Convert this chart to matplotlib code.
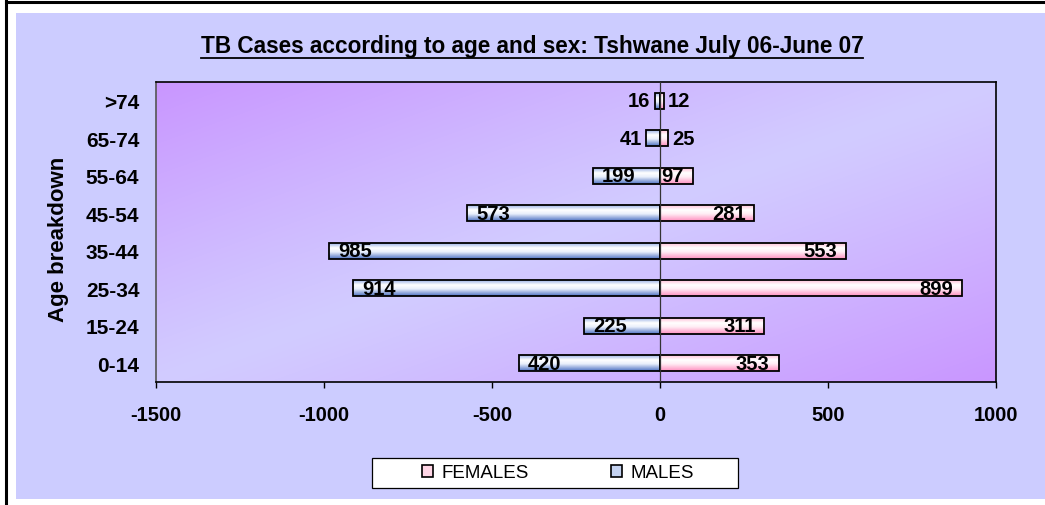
import numpy as np
import matplotlib
matplotlib.use('Agg')
import matplotlib.pyplot as plt
from matplotlib.patches import Rectangle, Patch
from matplotlib.lines import Line2D
from matplotlib.colors import to_rgb

# ---------------- data ----------------
age_groups = ['0-14', '15-24', '25-34', '35-44', '45-54', '55-64', '65-74', '>74']
females = [353, 311, 899, 553, 281, 97, 25, 12]
males = [420, 225, 914, 985, 573, 199, 41, 16]
x_ticks = [-1500, -1000, -500, 0, 500, 1000]
x_tick_labels = ['-1500', '-1000', '-500', '0', '500', '1000']
title = 'TB Cases according to age and sex: Tshwane July 06-June 07'
ylabel = 'Age breakdown'
series_names = ['FEMALES', 'MALES']

plt.rcParams['font.family'] = ['Liberation Sans', 'DejaVu Sans']

W, H = 1045, 506
fig = plt.figure(figsize=(W / 100, H / 100), dpi=100)
fig.patch.set_facecolor('white')


def fx(px):
    return px / W


def fy(py):
    return 1 - py / H


# outer lavender chart area and black frame lines
fig.patches.append(Rectangle((fx(16), fy(500)), 1 - fx(16), fy(14) - fy(500),
                             transform=fig.transFigure, facecolor='#CCCCFF',
                             edgecolor='none', zorder=-2))
fig.lines.append(Line2D([fx(6), fx(6)], [0, 1], transform=fig.transFigure,
                        color='black', lw=2.2, zorder=-1))
fig.lines.append(Line2D([fx(6), 1], [fy(3), fy(3)], transform=fig.transFigure,
                        color='black', lw=2.2, zorder=-1))

ax = fig.add_axes([fx(156), fy(383), fx(996) - fx(156), fy(83) - fy(383)])
ax.set_zorder(1)

# plot-area diagonal gradient
nx, ny = 300, 150
xx, yy = np.meshgrid(np.linspace(0, 1, nx), np.linspace(0, 1, ny))
t = (xx + yy) / 2
d = np.clip(np.abs(t - 0.5) * 2, 0, 1) ** 1.1
c_center = np.array(to_rgb('#D2CCFF'))
c_edge = np.array(to_rgb('#C996FF'))
bg = c_center + (c_edge - c_center) * d[..., None]
ax.imshow(bg, extent=[0, 1, 0, 1], transform=ax.transAxes, aspect='auto',
          zorder=0, origin='upper', interpolation='bilinear')


def vgrad(stops, n=64):
    pos = np.array([s[0] for s in stops])
    cols = np.array([to_rgb(s[1]) for s in stops])
    u = np.linspace(0, 1, n)
    arr = np.stack([np.interp(u, pos, cols[:, k]) for k in range(3)], axis=-1)
    return arr[:, None, :]


pink_img = vgrad([(0, '#FFC0D8'), (0.3, '#FFFFFF'), (0.55, '#FFEEF5'), (1, '#FF90C0')])
blue_img = vgrad([(0, '#9CB2E6'), (0.3, '#FFFFFF'), (0.55, '#EAF0FC'), (1, '#4E72C2')])

y = np.arange(len(age_groups))
bh = 0.42
fbars = ax.barh(y, females, height=bh, facecolor='none', edgecolor='black', lw=1.3, zorder=3)
mbars = ax.barh(y, [-m for m in males], height=bh, facecolor='none', edgecolor='black', lw=1.3, zorder=3)

for bars, img in ((fbars, pink_img), (mbars, blue_img)):
    for p in bars.patches:
        x0, y0 = p.get_x(), p.get_y()
        w, hh = p.get_width(), p.get_height()
        im = ax.imshow(img, extent=[min(x0, x0 + w), max(x0, x0 + w), y0, y0 + hh],
                       aspect='auto', zorder=2, origin='upper', interpolation='bilinear')
        im.set_clip_path(p)

ax.axvline(0, color='#333333', lw=0.9, zorder=4)

ax.set_xlim(-1500, 1000)
ax.set_ylim(-0.5, len(age_groups) - 0.5)

# value labels
lab_kw = dict(fontsize=14.5, fontweight='bold', va='center', textcoords='offset points', zorder=5)
for yi, v in zip(y, females):
    if v >= 60:
        ax.annotate(str(v), xy=(v, yi), xytext=(-6.5, 0), ha='right', **lab_kw)
    else:
        ax.annotate(str(v), xy=(v, yi), xytext=(3, 0), ha='left', **lab_kw)
for yi, v in zip(y, males):
    if v >= 60:
        ax.annotate(str(v), xy=(-v, yi), xytext=(6.5, 0), ha='left', **lab_kw)
    else:
        ax.annotate(str(v), xy=(-v, yi), xytext=(-3, 0), ha='right', **lab_kw)

ax.set_xticks(x_ticks)
ax.set_xticklabels(x_tick_labels, fontsize=14.5, fontweight='bold')
ax.set_yticks(y)
ax.set_yticklabels(age_groups, fontsize=15, fontweight='bold')
ax.tick_params(axis='x', direction='out', length=4.5, width=1, pad=12, colors='black')
ax.tick_params(axis='y', length=0, pad=12)
ax.set_ylabel(ylabel, fontsize=16, fontweight='bold')
ax.yaxis.set_label_coords(-0.104, 0.48)

for s in ['top', 'right', 'bottom']:
    ax.spines[s].set_color('black')
    ax.spines[s].set_linewidth(1.2)
ax.spines['left'].set_color('#555555')
ax.spines['left'].set_linewidth(1.2)

# title with underline
ttl = fig.text(fx(532), fy(46), title, ha='center', va='center', fontsize=16.3,
               fontweight='bold')
fig.canvas.draw()
bb = ttl.get_window_extent(fig.canvas.get_renderer())
fig.lines.append(Line2D([bb.x0 / W, bb.x1 / W], [(bb.y0 - 1) / H, (bb.y0 - 1) / H],
                        transform=fig.transFigure, color='black', lw=1.3))

# legend
fig.patches.append(Rectangle((fx(372), fy(489)), fx(738) - fx(372), fy(459) - fy(489),
                             transform=fig.transFigure, facecolor='white',
                             edgecolor='black', lw=0.9, zorder=2))
handles = [Patch(facecolor='#FFD6E6', edgecolor='black', lw=1.2),
           Patch(facecolor='#C4D2F0', edgecolor='black', lw=1.2)]
leg = fig.legend(handles, series_names, loc='center', bbox_to_anchor=(fx(558), fy(474)),
                 ncol=2, frameon=False, fontsize=13.5, handlelength=0.6, handleheight=0.6,
                 handletextpad=0.45, columnspacing=4.4, borderpad=0.2)
leg.set_zorder(3)

fig.savefig('out.png', dpi=100, facecolor=fig.get_facecolor())
